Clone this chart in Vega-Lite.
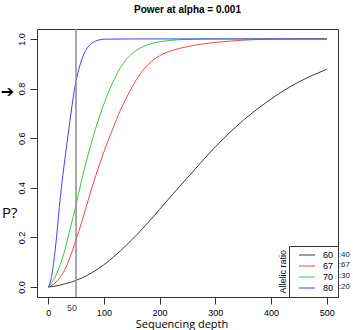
{
  "$schema": "https://vega.github.io/schema/vega-lite/v6.json",
  "width": 301,
  "height": 268,
  "autosize": {"type": "none"},
  "padding": {"left": 37, "top": 29, "right": 15, "bottom": 33},
  "background": "white",
  "title": {"text": "Power at alpha = 0.001", "font": "Liberation Sans", "fontSize": 10, "fontWeight": "bold", "anchor": "middle", "offset": 13, "color": "black"},
  "config": {
    "view": {"stroke": "#333", "strokeWidth": 1},
    "axis": {"grid": false, "domain": false, "tickColor": "#333", "tickSize": 7, "labelFont": "Liberation Sans", "labelFontSize": 9, "labelColor": "black"}
  },
  "layer": [
    {
      "data": {"values": [
        {"ratio": "60:40", "depth": 0, "power": 0},
        {"ratio": "60:40", "depth": 10, "power": 0.003},
        {"ratio": "60:40", "depth": 20, "power": 0.007},
        {"ratio": "60:40", "depth": 30, "power": 0.013},
        {"ratio": "60:40", "depth": 40, "power": 0.019},
        {"ratio": "60:40", "depth": 50, "power": 0.027},
        {"ratio": "60:40", "depth": 60, "power": 0.036},
        {"ratio": "60:40", "depth": 80, "power": 0.06},
        {"ratio": "60:40", "depth": 100, "power": 0.09},
        {"ratio": "60:40", "depth": 120, "power": 0.127},
        {"ratio": "60:40", "depth": 140, "power": 0.168},
        {"ratio": "60:40", "depth": 160, "power": 0.213},
        {"ratio": "60:40", "depth": 180, "power": 0.262},
        {"ratio": "60:40", "depth": 200, "power": 0.313},
        {"ratio": "60:40", "depth": 225, "power": 0.378},
        {"ratio": "60:40", "depth": 250, "power": 0.441},
        {"ratio": "60:40", "depth": 275, "power": 0.504},
        {"ratio": "60:40", "depth": 300, "power": 0.565},
        {"ratio": "60:40", "depth": 325, "power": 0.621},
        {"ratio": "60:40", "depth": 350, "power": 0.672},
        {"ratio": "60:40", "depth": 375, "power": 0.717},
        {"ratio": "60:40", "depth": 400, "power": 0.758},
        {"ratio": "60:40", "depth": 425, "power": 0.795},
        {"ratio": "60:40", "depth": 450, "power": 0.827},
        {"ratio": "60:40", "depth": 475, "power": 0.854},
        {"ratio": "60:40", "depth": 500, "power": 0.878},
        {"ratio": "67:67", "depth": 0, "power": 0},
        {"ratio": "67:67", "depth": 10, "power": 0.012},
        {"ratio": "67:67", "depth": 20, "power": 0.035},
        {"ratio": "67:67", "depth": 30, "power": 0.07},
        {"ratio": "67:67", "depth": 40, "power": 0.125},
        {"ratio": "67:67", "depth": 50, "power": 0.19},
        {"ratio": "67:67", "depth": 60, "power": 0.26},
        {"ratio": "67:67", "depth": 75, "power": 0.375},
        {"ratio": "67:67", "depth": 90, "power": 0.48},
        {"ratio": "67:67", "depth": 100, "power": 0.545},
        {"ratio": "67:67", "depth": 115, "power": 0.632},
        {"ratio": "67:67", "depth": 130, "power": 0.715},
        {"ratio": "67:67", "depth": 150, "power": 0.803},
        {"ratio": "67:67", "depth": 165, "power": 0.858},
        {"ratio": "67:67", "depth": 180, "power": 0.898},
        {"ratio": "67:67", "depth": 200, "power": 0.932},
        {"ratio": "67:67", "depth": 225, "power": 0.955},
        {"ratio": "67:67", "depth": 250, "power": 0.969},
        {"ratio": "67:67", "depth": 275, "power": 0.979},
        {"ratio": "67:67", "depth": 300, "power": 0.986},
        {"ratio": "67:67", "depth": 325, "power": 0.991},
        {"ratio": "67:67", "depth": 350, "power": 0.995},
        {"ratio": "67:67", "depth": 400, "power": 0.999},
        {"ratio": "67:67", "depth": 450, "power": 1},
        {"ratio": "67:67", "depth": 500, "power": 1},
        {"ratio": "70:30", "depth": 0, "power": 0},
        {"ratio": "70:30", "depth": 10, "power": 0.03},
        {"ratio": "70:30", "depth": 20, "power": 0.08},
        {"ratio": "70:30", "depth": 30, "power": 0.15},
        {"ratio": "70:30", "depth": 40, "power": 0.24},
        {"ratio": "70:30", "depth": 50, "power": 0.33},
        {"ratio": "70:30", "depth": 60, "power": 0.43},
        {"ratio": "70:30", "depth": 70, "power": 0.52},
        {"ratio": "70:30", "depth": 80, "power": 0.6},
        {"ratio": "70:30", "depth": 90, "power": 0.673},
        {"ratio": "70:30", "depth": 100, "power": 0.738},
        {"ratio": "70:30", "depth": 115, "power": 0.82},
        {"ratio": "70:30", "depth": 130, "power": 0.885},
        {"ratio": "70:30", "depth": 150, "power": 0.94},
        {"ratio": "70:30", "depth": 165, "power": 0.963},
        {"ratio": "70:30", "depth": 190, "power": 0.984},
        {"ratio": "70:30", "depth": 215, "power": 0.993},
        {"ratio": "70:30", "depth": 250, "power": 0.998},
        {"ratio": "70:30", "depth": 300, "power": 1},
        {"ratio": "70:30", "depth": 400, "power": 1},
        {"ratio": "70:30", "depth": 500, "power": 1},
        {"ratio": "80:20", "depth": 0, "power": 0},
        {"ratio": "80:20", "depth": 5, "power": 0.03},
        {"ratio": "80:20", "depth": 10, "power": 0.1},
        {"ratio": "80:20", "depth": 15, "power": 0.2},
        {"ratio": "80:20", "depth": 20, "power": 0.32},
        {"ratio": "80:20", "depth": 25, "power": 0.425},
        {"ratio": "80:20", "depth": 30, "power": 0.515},
        {"ratio": "80:20", "depth": 35, "power": 0.6},
        {"ratio": "80:20", "depth": 40, "power": 0.685},
        {"ratio": "80:20", "depth": 45, "power": 0.765},
        {"ratio": "80:20", "depth": 50, "power": 0.83},
        {"ratio": "80:20", "depth": 55, "power": 0.877},
        {"ratio": "80:20", "depth": 60, "power": 0.915},
        {"ratio": "80:20", "depth": 70, "power": 0.963},
        {"ratio": "80:20", "depth": 80, "power": 0.985},
        {"ratio": "80:20", "depth": 90, "power": 0.995},
        {"ratio": "80:20", "depth": 100, "power": 0.999},
        {"ratio": "80:20", "depth": 150, "power": 1},
        {"ratio": "80:20", "depth": 500, "power": 1}
      ]},
      "mark": {"type": "line", "strokeWidth": 1, "interpolate": "monotone"},
      "encoding": {
        "x": {"field": "depth", "type": "quantitative", "scale": {"domain": [-20, 520], "nice": false, "zero": false},
              "axis": {"values": [0, 100, 200, 300, 400, 500], "labelPadding": 4, "title": "Sequencing depth", "titleFont": "Open Sans", "titleFontSize": 11, "titleFontWeight": "normal", "titleColor": "black", "titleX": 144.5, "titleY": 30.5, "titleAlign": "center", "titleBaseline": "alphabetic"}},
        "y": {"field": "power", "type": "quantitative", "scale": {"domain": [-0.04, 1.04], "nice": false, "zero": false},
              "axis": {"values": [0, 0.2, 0.4, 0.6, 0.8, 1], "format": ".1f", "labelAngle": -90, "labelPadding": 4, "title": null}},
        "color": {"field": "ratio", "type": "nominal",
                  "scale": {"domain": ["60:40", "67:67", "70:30", "80:20"], "range": ["#3a3a3a", "#ff4040", "#35cc35", "#4040ff"]},
                  "legend": {"orient": "bottom-right", "offset": 0, "title": null, "strokeColor": "#333", "padding": 4, "symbolType": "M-1.8,0H1.8", "symbolSize": 81, "symbolOffset": 9, "symbolStrokeWidth": 1, "labelOffset": 11, "labelFont": "Liberation Sans", "labelFontSize": 9, "labelColor": "black", "rowPadding": 1, "labelExpr": "split(datum.label, ':')[0]"}}
      }
    },
    {
      "data": {"values": [{"depth": 50}]},
      "mark": {"type": "rule", "color": "#8c8c8c", "strokeWidth": 1.5},
      "encoding": {"x": {"field": "depth", "type": "quantitative"}}
    },
    {
      "data": {"values": [{}]},
      "mark": {"type": "text", "text": "P?", "font": "Open Sans", "fontSize": 15, "fill": "black", "clip": false},
      "encoding": {"x": {"datum": -69}, "y": {"datum": 0.297}}
    },
    {
      "data": {"values": [{}]},
      "mark": {"type": "text", "text": "➔", "font": "DejaVu Sans", "fontSize": 16, "fontWeight": "bold", "fill": "black", "clip": false},
      "encoding": {"x": {"datum": -73}, "y": {"datum": 0.787}}
    },
    {
      "data": {"values": [{}]},
      "mark": {"type": "text", "text": "50", "font": "Liberation Sans", "fontSize": 9, "fill": "#444", "clip": false, "baseline": "middle"},
      "encoding": {"x": {"datum": 43}, "y": {"datum": -0.086}}
    },
    {
      "data": {"values": [{}]},
      "mark": {"type": "text", "text": "Allelic ratio", "font": "Liberation Sans", "fontSize": 9, "fill": "black", "angle": 270, "clip": false},
      "encoding": {"x": {"datum": 421}, "y": {"datum": 0.062}}
    },
    {
      "data": {"values": [{"t": ":40", "p": 0.129}, {"t": ":67", "p": 0.089}, {"t": ":30", "p": 0.045}, {"t": ":20", "p": 0.001}]},
      "mark": {"type": "text", "font": "Liberation Sans", "fontSize": 8, "fill": "#222", "align": "left", "baseline": "middle", "clip": false},
      "encoding": {"x": {"datum": 521.5}, "y": {"field": "p", "type": "quantitative"}, "text": {"field": "t"}}
    }
  ]
}
